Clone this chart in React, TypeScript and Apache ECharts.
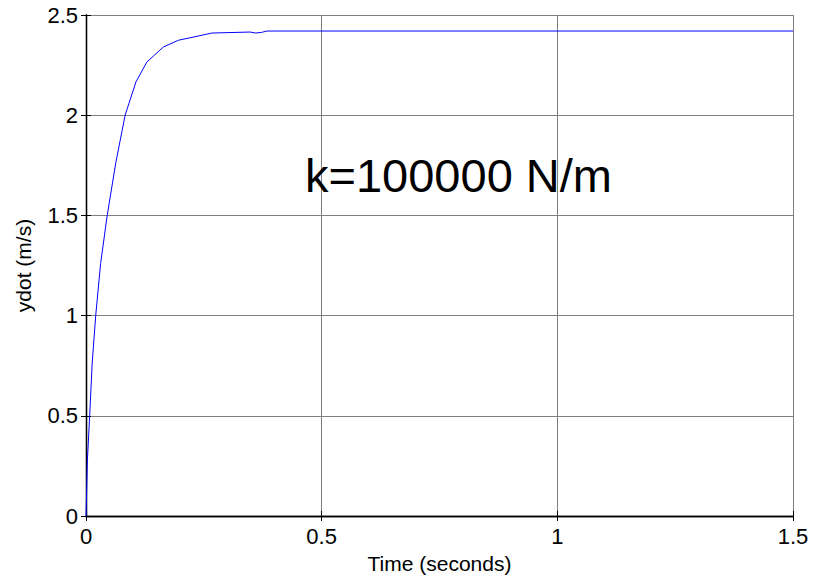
import React, { useEffect, useRef } from "react";
import * as echarts from "echarts";

const timeValues = [0, 0.003, 0.0078, 0.013, 0.0206, 0.031, 0.045, 0.063, 0.083, 0.106, 0.129, 0.164, 0.196, 0.238, 0.267, 0.348, 0.36, 0.372, 0.384, 1.5];
const ydotValues = [0, 0.28, 0.5, 0.76, 1.0, 1.26, 1.5, 1.76, 2.0, 2.166, 2.265, 2.34, 2.374, 2.395, 2.41, 2.415, 2.41, 2.413, 2.42, 2.42];
const xTicks = { min: 0, max: 1.5, interval: 0.5 };
const yTicks = { min: 0, max: 2.5, interval: 0.5 };
const annotation = "k=100000 N/m";
const xName = "Time (seconds)";
const yName = "ydot (m/s)";

const FONT = '"Liberation Sans", Arial, sans-serif';

export default function App() {
  const ref = useRef<HTMLDivElement>(null);
  useEffect(() => {
    if (!ref.current) return;
    const chart = echarts.init(ref.current, undefined, { renderer: "svg" });
    const data = timeValues.map((t, i) => [t, ydotValues[i]]);
    const axisLine = { show: true, lineStyle: { color: "#000", width: 1.3 } };
    const tick = { show: true, inside: true, length: 5, lineStyle: { color: "#000", width: 1 } };
    chart.setOption({
      animation: false,
      backgroundColor: "#fff",
      textStyle: { fontFamily: FONT },
      grid: { left: 86, right: 23, top: 15, bottom: 60, containLabel: false, outerBoundsMode: "none" },
      xAxis: [
        {
          type: "value",
          ...xTicks,
          name: xName,
          nameLocation: "middle",
          nameGap: 37,
          nameTextStyle: { color: "#000", fontSize: 21, fontFamily: FONT, lineHeight: 21 },
          axisLine,
          axisTick: tick,
          axisLabel: { color: "#000", fontSize: 22, fontFamily: FONT, margin: 9 },
          splitLine: { show: true, lineStyle: { color: "#808080", width: 1 } },
        },
        {
          type: "value",
          position: "top",
          ...xTicks,
          axisLine,
          axisTick: tick,
          axisLabel: { show: false },
          splitLine: { show: false },
        },
      ],
      yAxis: [
        {
          type: "value",
          ...yTicks,
          name: yName,
          nameLocation: "middle",
          nameGap: 52,
          nameTextStyle: { color: "#000", fontSize: 21, fontFamily: FONT },
          axisLine,
          axisTick: tick,
          axisLabel: { color: "#000", fontSize: 22, fontFamily: FONT, margin: 8 },
          splitLine: { show: true, lineStyle: { color: "#808080", width: 1 } },
        },
        {
          type: "value",
          position: "right",
          ...yTicks,
          axisLine,
          axisTick: tick,
          axisLabel: { show: false },
          splitLine: { show: false },
        },
      ],
      graphic: [
        {
          type: "text",
          x: 305,
          y: 175,
          style: {
            text: annotation,
            fontSize: 47,
            fontFamily: FONT,
            fill: "#000",
            verticalAlign: "middle",
            align: "left",
          },
          z: 10,
        },
      ],
      series: [
        {
          type: "line",
          data,
          showSymbol: false,
          symbol: "none",
          lineStyle: { color: "#0000ff", width: 1 },
          xAxisIndex: 0,
          yAxisIndex: 0,
        },
      ],
    });
    return () => chart.dispose();
  }, []);
  return <div ref={ref} style={{ width: 816, height: 576, position: "absolute", left: 0, top: 0 }} />;
}
